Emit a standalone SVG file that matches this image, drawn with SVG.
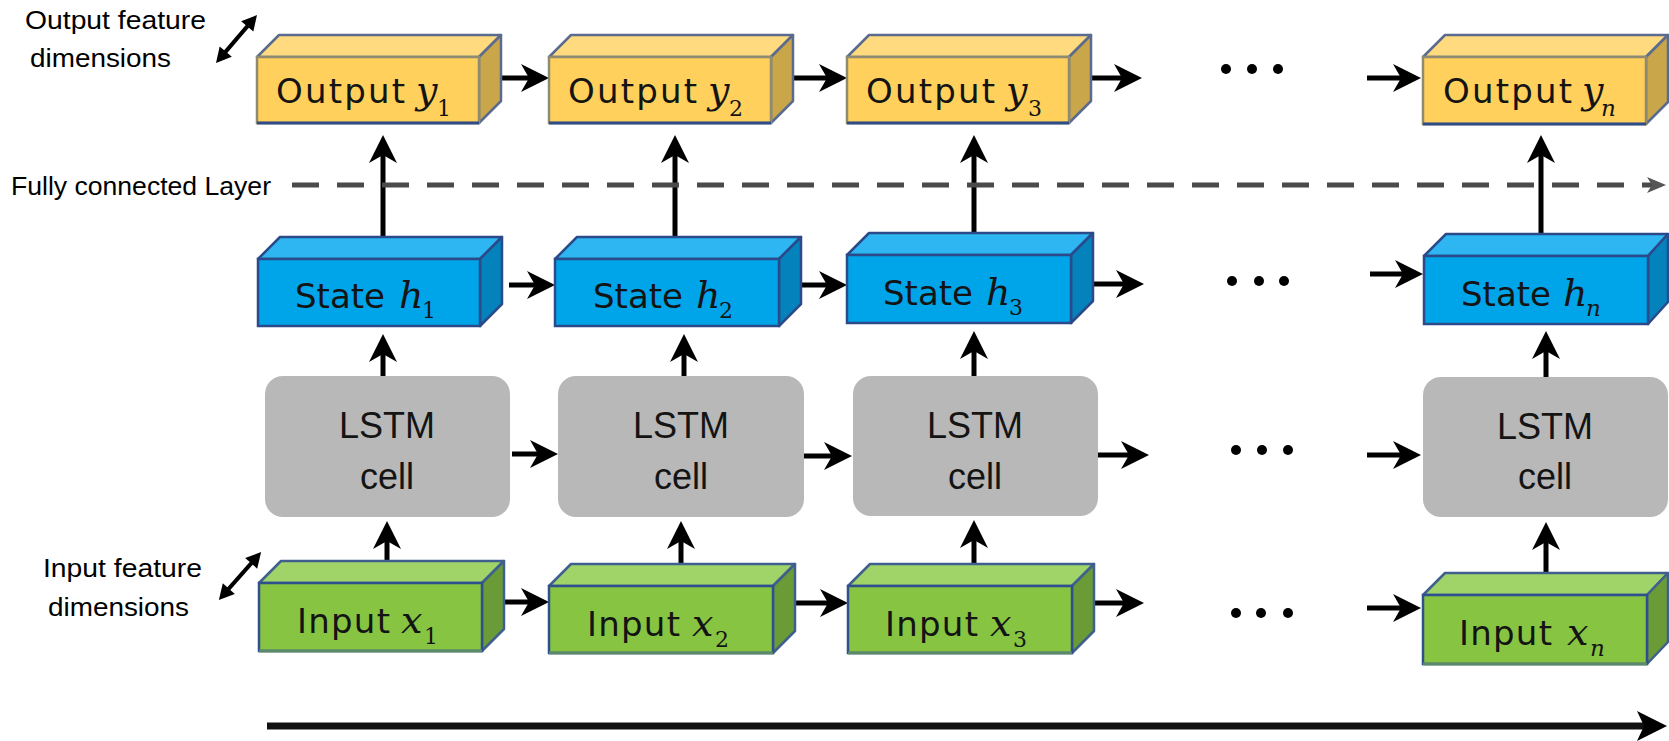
<svg xmlns="http://www.w3.org/2000/svg" width="1669" height="741" viewBox="0 0 1669 741">
<style>
.lbl{font-family:"Liberation Sans",Arial,sans-serif;font-size:26px;fill:#000}
.wd{font-family:"DejaVu Sans","Noto Sans",sans-serif;font-size:34px;fill:#141414}
.var{font-family:"DejaVu Serif","Liberation Serif",serif;font-style:italic;font-size:38px;fill:#141414}
.sub{font-family:"DejaVu Serif","Liberation Serif",serif;font-size:22px;fill:#141414}
.subi{font-family:"DejaVu Serif","Liberation Serif",serif;font-style:italic;font-size:23px;fill:#141414}
.lstm{font-family:"Liberation Sans",Arial,sans-serif;font-size:36px;fill:#141414;text-anchor:middle}
.of{fill:#FFD05B;stroke:#8F8A72;stroke-width:2.5}
.ot{fill:#FFDA7E;stroke:#5A6B8F;stroke-width:2.5;stroke-linejoin:round}
.or{fill:#C9A64A;stroke:#5A6B8F;stroke-width:2.5;stroke-linejoin:round}
.ob{stroke:#2F4C86;stroke-width:3}
.sf{fill:#00A5E9;stroke:#2A4A8A;stroke-width:2.5}
.st{fill:#2DB6F1;stroke:#2A4A8A;stroke-width:2.5;stroke-linejoin:round}
.sr{fill:#0482BB;stroke:#2A4A8A;stroke-width:2.5;stroke-linejoin:round}
.if{fill:#86C442;stroke:#2F4F8F;stroke-width:2.5}
.it{fill:#A0D468;stroke:#3F5F8F;stroke-width:2.5;stroke-linejoin:round}
.ir{fill:#6A9B36;stroke:#3F5F8F;stroke-width:2.5;stroke-linejoin:round}
.ib{stroke:#5A8A6A;stroke-width:3}
.cell{fill:#B8B8B8}
.ar{stroke:#000;stroke-width:5;fill:none;marker-end:url(#ah)}
.dbl{stroke:#000;stroke-width:4;marker-start:url(#ahs);marker-end:url(#ahs)}
.dot{fill:#000}
</style>
<defs>
<marker id="ah" markerUnits="userSpaceOnUse" viewBox="-15 -16 32 32" markerWidth="32" markerHeight="32" refX="0" refY="0" orient="auto">
<path d="M15,0 L-13,-14 L-5,0 L-13,14 Z" fill="#000"/>
</marker>
<marker id="ahg" markerUnits="userSpaceOnUse" viewBox="-12 -10 24 20" markerWidth="24" markerHeight="20" refX="0" refY="0" orient="auto">
<path d="M10,0 L-9,-8 L-4,0 L-9,8 Z" fill="#555"/>
</marker>
<marker id="ahb" markerUnits="userSpaceOnUse" viewBox="-16 -18 36 36" markerWidth="36" markerHeight="36" refX="0" refY="0" orient="auto">
<path d="M18,0 L-12,-15 L-5,0 L-12,15 Z" fill="#000"/>
</marker>
<marker id="ahs" markerUnits="userSpaceOnUse" viewBox="-8 -10 20 20" markerWidth="20" markerHeight="20" refX="0" refY="0" orient="auto-start-reverse">
<path d="M10,0 L-5,-8 L-5,8 Z" fill="#000"/>
</marker>
</defs>
<rect width="1669" height="741" fill="#fff"/>

<g id="connectors">
<line class="ar" x1="383" y1="237" x2="383" y2="150"/>
<line class="ar" x1="675" y1="237" x2="675" y2="150"/>
<line class="ar" x1="974" y1="233" x2="974" y2="150"/>
<line class="ar" x1="1541" y1="234" x2="1541" y2="150"/>
<line class="ar" x1="383" y1="377" x2="383" y2="349"/>
<line class="ar" x1="684" y1="377" x2="684" y2="349"/>
<line class="ar" x1="974" y1="377" x2="974" y2="346"/>
<line class="ar" x1="1546" y1="378" x2="1546" y2="346"/>
<line class="ar" x1="387" y1="561" x2="387" y2="536"/>
<line class="ar" x1="681" y1="564" x2="681" y2="536"/>
<line class="ar" x1="974" y1="564" x2="974" y2="535"/>
<line class="ar" x1="1546" y1="573" x2="1546" y2="537"/>
<line class="ar" x1="502" y1="78" x2="534" y2="78"/>
<line class="ar" x1="793" y1="78" x2="832" y2="78"/>
<line class="ar" x1="1091" y1="78" x2="1127" y2="78"/>
<line class="ar" x1="1367" y1="78" x2="1406" y2="78"/>
<line class="ar" x1="509" y1="285" x2="540" y2="285"/>
<line class="ar" x1="802" y1="285" x2="832" y2="285"/>
<line class="ar" x1="1093" y1="284" x2="1129" y2="284"/>
<line class="ar" x1="1370" y1="274" x2="1408" y2="274"/>
<line class="ar" x1="512" y1="454" x2="543" y2="454"/>
<line class="ar" x1="804" y1="456" x2="837" y2="456"/>
<line class="ar" x1="1098" y1="455" x2="1134" y2="455"/>
<line class="ar" x1="1367" y1="455" x2="1406" y2="455"/>
<line class="ar" x1="505" y1="602" x2="534" y2="602"/>
<line class="ar" x1="795" y1="603" x2="833" y2="603"/>
<line class="ar" x1="1093" y1="603" x2="1129" y2="603"/>
<line class="ar" x1="1367" y1="608" x2="1406" y2="608"/>
<line x1="292" y1="185" x2="1656" y2="185" stroke="#4A4A4A" stroke-width="5" stroke-dasharray="27 18" marker-end="url(#ahg)"/>
<line x1="267" y1="726" x2="1649" y2="726" stroke="#111" stroke-width="7" marker-end="url(#ahb)"/>
<line class="dbl" x1="222.5" y1="55.4" x2="250.5" y2="22.6"/>
<line class="dbl" x1="225.5" y1="592.4" x2="254.5" y2="559.6"/>
</g>

<g id="labels">
<text class="lbl" x="25" y="29" textLength="181" lengthAdjust="spacingAndGlyphs">Output feature</text>
<text class="lbl" x="30" y="67" textLength="141" lengthAdjust="spacingAndGlyphs">dimensions</text>
<text class="lbl" x="11" y="195" textLength="260" lengthAdjust="spacingAndGlyphs">Fully connected Layer</text>
<text class="lbl" x="43" y="577" textLength="159" lengthAdjust="spacingAndGlyphs">Input feature</text>
<text class="lbl" x="48" y="616" textLength="141" lengthAdjust="spacingAndGlyphs">dimensions</text>
</g>

<g id="output1">
<polygon class="ot" points="257,57 279,35 501,35 479,57"/>
<polygon class="or" points="479,57 501,35 501,101 479,123"/>
<rect class="of" x="257" y="57" width="222" height="66"/>
<line class="ob" x1="257" y1="123" x2="479" y2="123"/>
<text class="wd" x="276" y="103" textLength="129">Output</text>
<text class="var" x="416" y="103">y</text><text class="sub" x="437" y="116">1</text>
</g>
<g id="output2">
<polygon class="ot" points="549,57 571,35 793,35 771,57"/>
<polygon class="or" points="771,57 793,35 793,101 771,123"/>
<rect class="of" x="549" y="57" width="222" height="66"/>
<line class="ob" x1="549" y1="123" x2="771" y2="123"/>
<text class="wd" x="568" y="103" textLength="129">Output</text>
<text class="var" x="708" y="103">y</text><text class="sub" x="729" y="116">2</text>
</g>
<g id="output3">
<polygon class="ot" points="847,57 869,35 1091,35 1069,57"/>
<polygon class="or" points="1069,57 1091,35 1091,101 1069,123"/>
<rect class="of" x="847" y="57" width="222" height="66"/>
<line class="ob" x1="847" y1="123" x2="1069" y2="123"/>
<text class="wd" x="866" y="103" textLength="129">Output</text>
<text class="var" x="1006" y="103">y</text><text class="sub" x="1028" y="116">3</text>
</g>
<g id="outputn">
<polygon class="ot" points="1423,57 1445,35 1668,35 1646,57"/>
<polygon class="or" points="1646,57 1668,35 1668,102 1646,124"/>
<rect class="of" x="1423" y="57" width="223" height="67"/>
<line class="ob" x1="1423" y1="124" x2="1646" y2="124"/>
<text class="wd" x="1443" y="103" textLength="129">Output</text>
<text class="var" x="1582" y="103">y</text><text class="subi" x="1601" y="116">n</text>
</g>

<g id="state1">
<polygon class="st" points="258,259 280,237 502,237 480,259"/>
<polygon class="sr" points="480,259 502,237 502,304 480,326"/>
<rect class="sf" x="258" y="259" width="222" height="67"/>
<text class="wd" x="295" y="308" textLength="90">State</text>
<text class="var" x="399" y="308">h</text><text class="sub" x="422" y="318">1</text>
</g>
<g id="state2">
<polygon class="st" points="555,259 577,237 801,237 779,259"/>
<polygon class="sr" points="779,259 801,237 801,304 779,326"/>
<rect class="sf" x="555" y="259" width="224" height="67"/>
<text class="wd" x="593" y="308" textLength="90">State</text>
<text class="var" x="696" y="308">h</text><text class="sub" x="719" y="318">2</text>
</g>
<g id="state3">
<polygon class="st" points="847,255 869,233 1093,233 1071,255"/>
<polygon class="sr" points="1071,255 1093,233 1093,301 1071,323"/>
<rect class="sf" x="847" y="255" width="224" height="68"/>
<text class="wd" x="883" y="305" textLength="90">State</text>
<text class="var" x="986" y="305">h</text><text class="sub" x="1009" y="315">3</text>
</g>
<g id="staten">
<polygon class="st" points="1424,256 1446,234 1668,234 1648,256"/>
<polygon class="sr" points="1648,256 1668,234 1668,302 1648,324"/>
<rect class="sf" x="1424" y="256" width="224" height="68"/>
<text class="wd" x="1461" y="306" textLength="90">State</text>
<text class="var" x="1563" y="306">h</text><text class="subi" x="1586" y="316">n</text>
</g>

<g id="lstm1">
<rect class="cell" x="265" y="376" width="245" height="141" rx="18"/>
<text class="lstm" x="387" y="438">LSTM</text>
<text class="lstm" x="387" y="489">cell</text>
</g>
<g id="lstm2">
<rect class="cell" x="558" y="376" width="246" height="141" rx="18"/>
<text class="lstm" x="681" y="438">LSTM</text>
<text class="lstm" x="681" y="489">cell</text>
</g>
<g id="lstm3">
<rect class="cell" x="853" y="376" width="245" height="140" rx="18"/>
<text class="lstm" x="975" y="438">LSTM</text>
<text class="lstm" x="975" y="489">cell</text>
</g>
<g id="lstmn">
<rect class="cell" x="1423" y="377" width="245" height="140" rx="18"/>
<text class="lstm" x="1545" y="439">LSTM</text>
<text class="lstm" x="1545" y="489">cell</text>
</g>

<g id="input1">
<polygon class="it" points="259,583 281,561 504,561 482,583"/>
<polygon class="ir" points="482,583 504,561 504,629 482,651"/>
<rect class="if" x="259" y="583" width="223" height="68"/>
<line class="ib" x1="259" y1="651" x2="482" y2="651"/>
<text class="wd" x="297" y="633" textLength="93">Input</text>
<text class="var" x="401" y="633">x</text><text class="sub" x="424" y="644">1</text>
</g>
<g id="input2">
<polygon class="it" points="549,586 571,564 795,564 773,586"/>
<polygon class="ir" points="773,586 795,564 795,631 773,653"/>
<rect class="if" x="549" y="586" width="224" height="67"/>
<line class="ib" x1="549" y1="653" x2="773" y2="653"/>
<text class="wd" x="587" y="636" textLength="93">Input</text>
<text class="var" x="692" y="636">x</text><text class="sub" x="715" y="647">2</text>
</g>
<g id="input3">
<polygon class="it" points="848,586 870,564 1094,564 1072,586"/>
<polygon class="ir" points="1072,586 1094,564 1094,631 1072,653"/>
<rect class="if" x="848" y="586" width="224" height="67"/>
<line class="ib" x1="848" y1="653" x2="1072" y2="653"/>
<text class="wd" x="885" y="636" textLength="93">Input</text>
<text class="var" x="990" y="636">x</text><text class="sub" x="1013" y="647">3</text>
</g>
<g id="inputn">
<polygon class="it" points="1423,595 1445,573 1668,573 1647,595"/>
<polygon class="ir" points="1647,595 1668,573 1668,642 1647,664"/>
<rect class="if" x="1423" y="595" width="224" height="69"/>
<line class="ib" x1="1423" y1="664" x2="1647" y2="664"/>
<text class="wd" x="1459" y="645" textLength="93">Input</text>
<text class="var" x="1567" y="645">x</text><text class="subi" x="1590" y="656">n</text>
</g>

<g id="ellipsis">
<circle class="dot" cx="1226" cy="69" r="5"/><circle class="dot" cx="1252" cy="69" r="5"/><circle class="dot" cx="1278" cy="69" r="5"/>
<circle class="dot" cx="1232" cy="281" r="5"/><circle class="dot" cx="1259" cy="281" r="5"/><circle class="dot" cx="1284" cy="281" r="5"/>
<circle class="dot" cx="1236" cy="450" r="5"/><circle class="dot" cx="1262" cy="450" r="5"/><circle class="dot" cx="1288" cy="450" r="5"/>
<circle class="dot" cx="1236" cy="613" r="5"/><circle class="dot" cx="1261" cy="613" r="5"/><circle class="dot" cx="1288" cy="613" r="5"/>
</g>
</svg>
